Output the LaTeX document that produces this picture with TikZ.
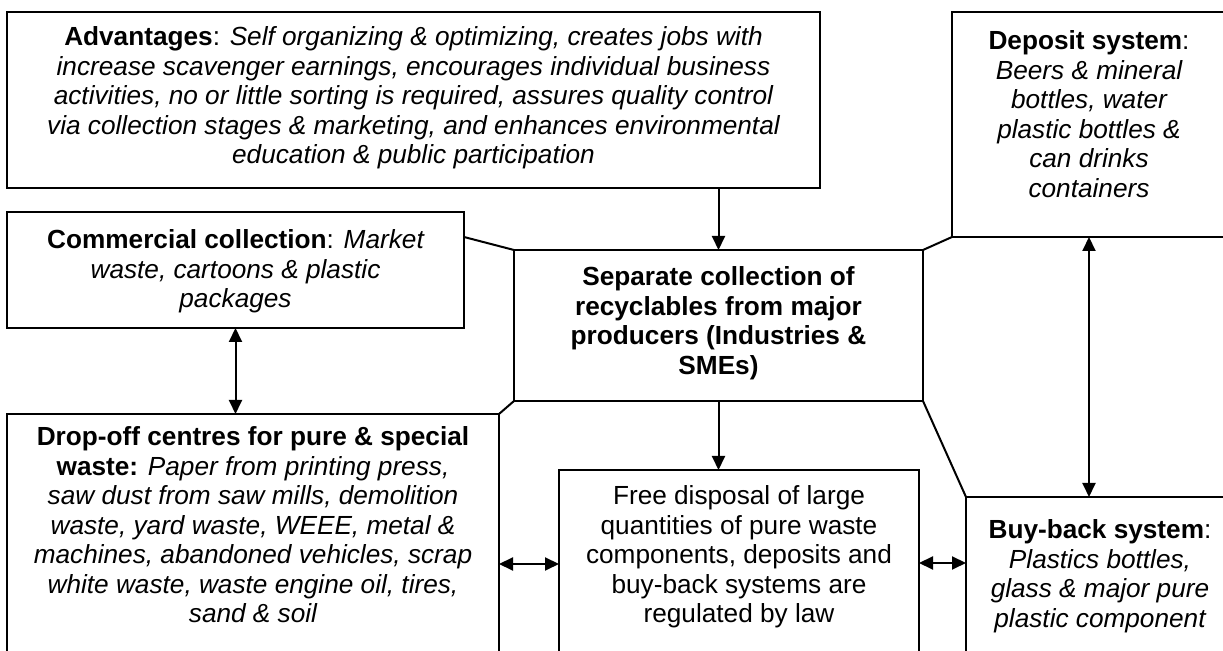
\documentclass[tikz,border=0pt]{standalone}
\usepackage{fontspec}
\setmainfont{Liberation Sans}
\usetikzlibrary{arrows.meta}
\lineskiplimit=-20pt
\newcommand\bxt[4]{\parbox[c][#2][t]{#1}{\centering\rule{0pt}{#3}#4}}
\begin{document}
\begin{tikzpicture}[x=0.5pt,y=-0.5pt,
  box/.style={draw, line width=1pt, inner sep=0pt, outer sep=0pt, rectangle, font=\fontsize{13.1}{14.75}\selectfont},
  arr/.style={line width=1pt, -{Triangle[width=6.5pt,length=7pt]}},
  dbl/.style={line width=1pt, {Triangle[width=6.5pt,length=7pt]}-{Triangle[width=6.5pt,length=7pt]}},
  link/.style={line width=1pt}]
\useasboundingbox (0,0) rectangle (1223,651);
\fill[white] (0,0) rectangle (1223,651);
\clip (0,0) rectangle (1223,651);

\node[box] (adv) at (413.5,100) {\bxt{406.5pt}{88pt}{17pt}{%
  {\bfseries Advantages}: \itshape Self organizing \& optimizing, creates jobs with\\
  increase scavenger earnings, encourages individual business\\
  activities, no or little sorting is required, assures quality control\\
  via collection stages \& marketing, and enhances environmental\\
  education \& public participation}};

\node[box] (dep) at (1089,124.5) {\bxt{137pt}{112.5pt}{19pt}{%
  {\bfseries Deposit system}:\\
  \itshape Beers \& mineral\\
  bottles, water\\
  plastic bottles \&\\
  can drinks\\
  containers}};

\node[box] (com) at (235.5,270) {\bxt{228.5pt}{58pt}{18.5pt}{%
  {\bfseries Commercial collection}: \itshape Market\\
  waste, cartoons \& plastic\\
  packages}};

\node[box] (cen) at (718.5,325.5) {\bxt{204.5pt}{75.5pt}{18pt}{%
  \bfseries Separate collection of\\
  recyclables from major\\
  producers (Industries \&\\
  SMEs)}};

\node[box] (drop) at (253,547) {\bxt{246pt}{133pt}{16pt}{%
  \textbf{Drop-off centres for pure \& special}\\
  \textbf{waste:} \itshape Paper from printing press,\\
  saw dust from saw mills, demolition\\
  waste, yard waste, WEEE, metal \&\\
  machines, abandoned vehicles, scrap\\
  white waste, waste engine oil, tires,\\
  sand \& soil}};

\node[box] (free) at (739,575) {\bxt{180pt}{105pt}{17.5pt}{%
  Free disposal of large\\
  quantities of pure waste\\
  components, deposits and\\
  buy-back systems are\\
  regulated by law}};

\node[box] (buy) at (1100,588.5) {\bxt{134pt}{91.5pt}{21pt}{%
  {\bfseries Buy-back system}:\\
  \itshape Plastics bottles,\\
  glass \& major pure\\
  plastic component}};

% slanted links
\draw[link] (com.east |- dep.south) -- (cen.north west);
\draw[link] (dep.south west) -- (cen.north east);
\draw[link] (drop.north east) -- (cen.south west);
\draw[link] (cen.south east) -- (buy.north west);

% arrows
\draw[arr] (adv.south -| cen.north) -- (cen.north);
\draw[arr] (cen.south) -- (free.north -| cen.south);
\draw[dbl] (com.south) -- (drop.north -| com.south);
\draw[dbl] (dep.south) -- (buy.north -| dep.south);
\coordinate (yl) at (0,564);
\coordinate (yr) at (0,563);
\draw[dbl] (drop.east |- yl) -- (free.west |- yl);
\draw[dbl] (free.east |- yr) -- (buy.west |- yr);
\end{tikzpicture}
\end{document}
